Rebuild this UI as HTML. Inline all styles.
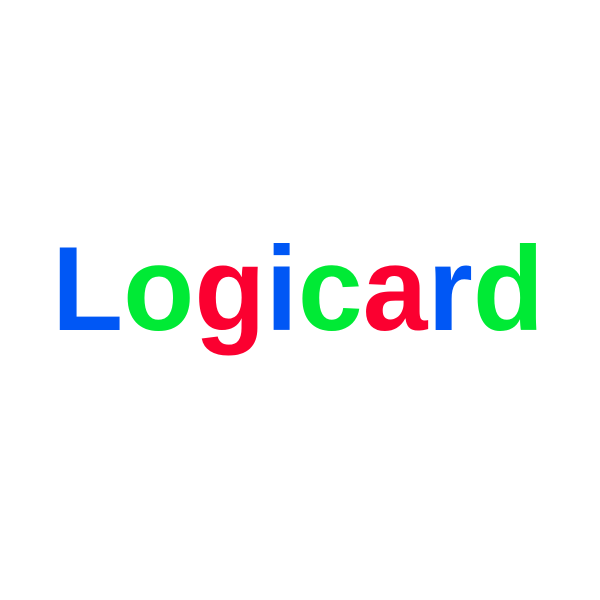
<!DOCTYPE html>
<html>
<head>
<meta charset="utf-8">
<style>
  html,body{margin:0;padding:0;background:#fff;}
  svg{display:block;}
</style>
</head>
<body>
<svg width="600" height="600" viewBox="0 0 600 600">
  <rect width="600" height="600" fill="#fff"/>
  <text x="52" y="330" font-family="'Liberation Sans', sans-serif" font-weight="bold" font-size="120" textLength="492" lengthAdjust="spacingAndGlyphs"><tspan fill="#0057f5">L</tspan><tspan fill="#00ea35">o</tspan><tspan fill="#fb0030">g</tspan><tspan fill="#0057f5">i</tspan><tspan fill="#00ea35">c</tspan><tspan fill="#fb0030">a</tspan><tspan fill="#0057f5">r</tspan><tspan fill="#00ea35">d</tspan></text>
</svg>
</body>
</html>
